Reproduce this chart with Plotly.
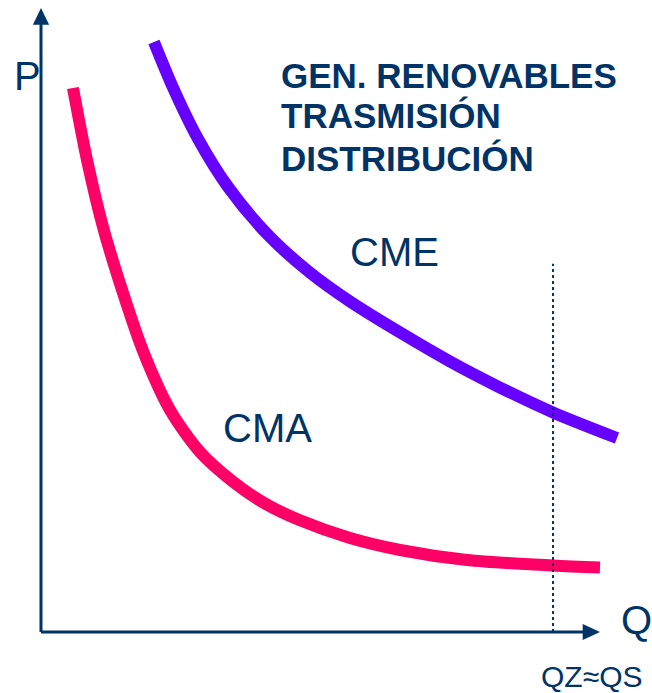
import plotly.graph_objects as go

# Quantity (Q) and price (P) readings for the two cost curves
cme_q = [20.21, 23.61, 28.09, 33.45, 40.61, 48.12, 55.28, 64.22, 73.17, 82.11, 91.59, 103.04]
cme_p = [94.55, 87.24, 79.02, 71.33, 63.64, 57.58, 52.96, 48.00, 43.35, 39.18, 35.19, 31.09]

cma_q = [5.72, 8.23, 11.09, 14.67, 18.25, 23.08, 28.44, 34.35, 40.07, 46.33,
         55.28, 64.22, 76.21, 91.59, 100.0]
cma_p = [87.18, 75.64, 64.90, 54.33, 45.03, 35.58, 28.85, 24.09, 20.59, 17.90,
         15.06, 13.14, 11.54, 10.66, 10.34]

# Reference quantity QZ≈QS
q_ref = 91.6
q_ref_top = 59.0

title_lines = ["GEN. RENOVABLES", "TRASMISIÓN", "DISTRIBUCIÓN"]

NAVY = "#003366"
PURPLE = "#6600FF"
PINK = "#FF0066"
FONT = "Arial, Liberation Sans, sans-serif"

fig = go.Figure()

fig.add_trace(go.Scatter(
    x=cme_q, y=cme_p, mode="lines",
    line=dict(color=PURPLE, width=12, shape="spline", smoothing=0.8),
    hoverinfo="skip", showlegend=False,
))
fig.add_trace(go.Scatter(
    x=cma_q, y=cma_p, mode="lines",
    line=dict(color=PINK, width=12, shape="spline", smoothing=0.8),
    hoverinfo="skip", showlegend=False,
))

# dotted marker at QZ≈QS
fig.add_trace(go.Scatter(
    x=[q_ref, q_ref], y=[0, q_ref_top], mode="lines",
    line=dict(color=NAVY, width=2, dash="dot"),
    hoverinfo="skip", showlegend=False,
))

shapes = [
    # P axis
    dict(type="line", x0=0, y0=0, x1=0, y1=97.6, line=dict(color=NAVY, width=3)),
    # Q axis
    dict(type="line", x0=0, y0=0, x1=97.2, y1=0, line=dict(color=NAVY, width=3)),
    # arrow heads
    dict(type="path", path="M -1.45 97.3 L 1.45 97.3 L 0 100 Z",
         fillcolor=NAVY, line=dict(color=NAVY, width=0)),
    dict(type="path", path="M 96.9 1.3 L 96.9 -1.3 L 100 0 Z",
         fillcolor=NAVY, line=dict(color=NAVY, width=0)),
]

annotations = [
    dict(x=-2.5, y=89.1, text="P", font=dict(size=40, color=NAVY, family=FONT)),
    dict(x=106.6, y=1.9, text="Q", font=dict(size=40, color=NAVY, family=FONT)),
    dict(x=98.5, y=-7.2, text="QZ≈QS", font=dict(size=30, color=NAVY, family=FONT)),
    dict(x=63.3, y=60.9, text="CME", font=dict(size=40, color=NAVY, family=FONT)),
    dict(x=40.6, y=32.7, text="CMA", font=dict(size=40, color=NAVY, family=FONT)),
]
for line_text, p in zip(title_lines, [89.2, 82.8, 75.9]):
    annotations.append(dict(
        x=42.6, y=p, text=f"<b>{line_text}</b>", xanchor="left",
        font=dict(size=35, color=NAVY, family=FONT),
    ))
for a in annotations:
    a.update(xref="x", yref="y", showarrow=False)
    a.setdefault("xanchor", "center")
    a.setdefault("yanchor", "middle")

fig.update_layout(
    width=652, height=693,
    margin=dict(l=0, r=0, t=0, b=0),
    paper_bgcolor="white", plot_bgcolor="white",
    xaxis=dict(range=[-7.334, 109.30], visible=False, fixedrange=True),
    yaxis=dict(range=[-9.776, 101.28], visible=False, fixedrange=True),
    shapes=shapes, annotations=annotations,
    showlegend=False,
)

fig.write_html("out.html")
